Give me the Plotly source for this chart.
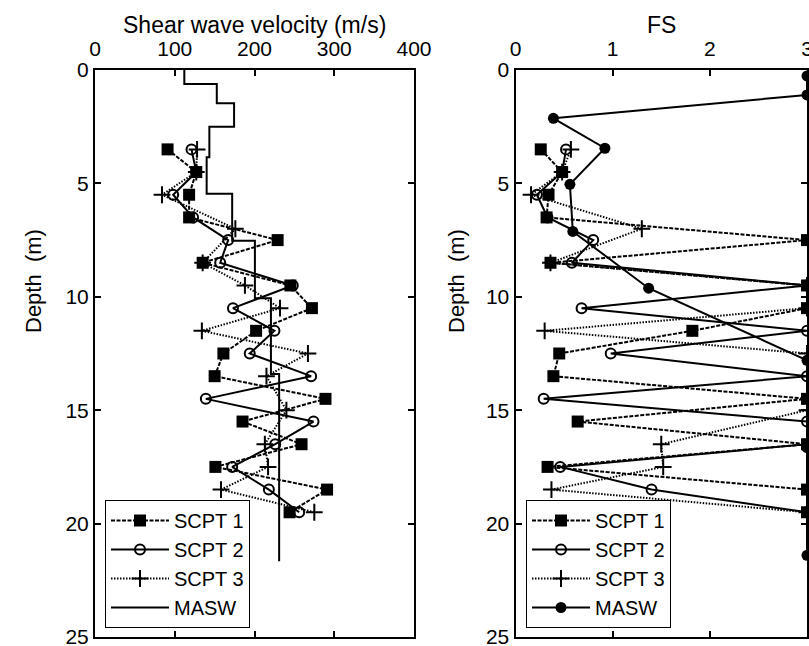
import plotly.graph_objects as go

# ---------------- data ----------------
depth_scpt = [3.5, 4.5, 5.5, 6.5, 7.5, 8.5, 9.5, 10.5, 11.5, 12.5, 13.5, 14.5, 15.5, 16.5, 17.5, 18.5, 19.5]
vs_scpt1 = [91, 127, 118, 118, 229, 135, 245, 272, 202, 161, 150, 289, 185, 259, 151, 291, 244]
vs_scpt2 = [121, 127, 98, 123, 167, 157, 248, 173, 225, 194, 271, 139, 274, 226, 172, 218, 256]
depth_scpt3 = [3.5, 4.5, 5.5, 7.0, 8.5, 9.5, 10.5, 11.5, 12.5, 13.5, 15.0, 16.5, 17.5, 18.5, 19.5]
vs_scpt3 = [128, 127, 84, 176, 135, 188, 232, 134, 267, 215, 240, 213, 217, 158, 275]

# MASW layered profile: layer top depths, layer velocities, bottom depth of profile
masw_layer_top = [0, 0.62, 1.47, 2.5, 3.85, 5.46, 7.53, 10.06, 13.4]
masw_vs = [112, 152.7, 174.4, 143.4, 140, 172, 200.5, 220.6, 230.9]
masw_bottom = 21.66

fs_scpt1 = [0.26, 0.48, 0.34, 0.32, 3, 0.36, 3, 3, 1.82, 0.45, 0.39, 3, 0.64, 3, 0.33, 3, 3]
fs_scpt2 = [0.52, 0.48, 0.22, 0.33, 0.8, 0.58, 3, 0.68, 3, 0.98, 3, 0.29, 3, 3, 0.46, 1.4, 3]
fs_scpt3 = [0.57, 0.48, 0.16, 1.3, 0.36, 3, 3, 0.3, 3, 3, 3, 1.5, 1.52, 0.37, 3]
masw_fs_depth = [0.26, 1.1, 2.13, 3.45, 5.04, 7.12, 9.62, 12.8, 16.65, 21.4]
masw_fs = [3, 3, 0.39, 0.92, 0.56, 0.59, 1.37, 3, 3, 3]

names = ["SCPT 1", "SCPT 2", "SCPT 3", "MASW"]

# ---------------- styles / geometry ----------------
FONT = "Liberation Sans, Arial, Helvetica, sans-serif"
W, H = 809, 646


def px(sx):
    return sx / W


def py(sy):
    return (H - sy) / H


s1 = dict(line=dict(color="black", width=2, dash="4px,1.5px"),
          marker=dict(symbol="square", size=12, color="black"))
s2 = dict(line=dict(color="black", width=2),
          marker=dict(symbol="circle-open", size=10, color="black", line=dict(width=2, color="black")))
s3 = dict(line=dict(color="black", width=2, dash="1.5px,1.5px"),
          marker=dict(symbol="cross-thin", size=12, color="black", line=dict(width=2, color="black")))

fig = go.Figure()

# left panel
fig.add_trace(go.Scatter(x=vs_scpt1, y=depth_scpt, mode="lines+markers", name=names[0],
                         xaxis="x", yaxis="y", legend="legend", **s1))
fig.add_trace(go.Scatter(x=vs_scpt2, y=depth_scpt, mode="lines+markers", name=names[1],
                         xaxis="x", yaxis="y", legend="legend", **s2))
fig.add_trace(go.Scatter(x=vs_scpt3, y=depth_scpt3, mode="lines+markers", name=names[2],
                         xaxis="x", yaxis="y", legend="legend", **s3))
masw_x = masw_vs + [masw_vs[-1]]
masw_y = masw_layer_top + [masw_bottom]
fig.add_trace(go.Scatter(x=masw_x, y=masw_y, mode="lines", name=names[3], line_shape="vh",
                         line=dict(color="black", width=2),
                         xaxis="x", yaxis="y", legend="legend"))

# right panel
fig.add_trace(go.Scatter(x=fs_scpt1, y=depth_scpt, mode="lines+markers", name=names[0],
                         xaxis="x2", yaxis="y2", legend="legend2", cliponaxis=False, **s1))
fig.add_trace(go.Scatter(x=fs_scpt2, y=depth_scpt, mode="lines+markers", name=names[1],
                         xaxis="x2", yaxis="y2", legend="legend2", cliponaxis=False, **s2))
fig.add_trace(go.Scatter(x=fs_scpt3, y=depth_scpt3, mode="lines+markers", name=names[2],
                         xaxis="x2", yaxis="y2", legend="legend2", cliponaxis=False, **s3))
fig.add_trace(go.Scatter(x=masw_fs, y=masw_fs_depth, mode="lines+markers", name=names[3],
                         line=dict(color="black", width=2),
                         marker=dict(symbol="circle", size=11, color="black"),
                         xaxis="x2", yaxis="y2", legend="legend2", cliponaxis=False))

ax = dict(showline=True, linecolor="black", linewidth=2, mirror="ticks",
          ticks="inside", ticklen=6, tickwidth=1.5, tickcolor="black",
          showgrid=False, zeroline=False, tickfont=dict(family=FONT, size=21, color="black"),
          automargin=False, ticklabeloverflow="allow")
xax = dict(ax, ticklabelstandoff=4)

legend_style = dict(xanchor="left", yanchor="bottom",
                    bordercolor="black", borderwidth=1, bgcolor="white",
                    font=dict(family=FONT, size=20, color="black"), itemwidth=58,
                    tracegroupgap=0)

fig.update_layout(
    width=W, height=H,
    margin=dict(l=0, r=0, t=0, b=0),
    paper_bgcolor="white", plot_bgcolor="white",
    font=dict(family=FONT, size=21, color="black"),
    xaxis=dict(domain=[px(95), px(414)], range=[0, 400], dtick=100, side="top", anchor="y", **xax),
    yaxis=dict(domain=[py(637), py(70)], range=[25, 0], dtick=5, anchor="x", **ax),
    xaxis2=dict(domain=[px(515.5), px(807)], range=[0, 3], dtick=1, side="top", anchor="y2", **xax),
    yaxis2=dict(domain=[py(637), py(70)], range=[25, 0], dtick=5, anchor="x2", **ax),
    legend=dict(x=px(105), y=py(628), **legend_style),
    legend2=dict(x=px(526), y=py(628), **legend_style),
    showlegend=True,
    annotations=[
        dict(text="Shear wave velocity (m/s)", x=px(255), y=py(25), xref="paper", yref="paper",
             showarrow=False, font=dict(family=FONT, size=23, color="black"), xanchor="center", yanchor="middle"),
        dict(text="FS", x=px(661), y=py(25), xref="paper", yref="paper",
             showarrow=False, font=dict(family=FONT, size=23, color="black"), xanchor="center", yanchor="middle"),
        dict(text="Depth\u00a0\u00a0(m)", x=px(33), y=py(281), xref="paper", yref="paper", textangle=-90,
             showarrow=False, font=dict(family=FONT, size=22, color="black"), xanchor="center", yanchor="middle"),
        dict(text="Depth\u00a0\u00a0(m)", x=px(456), y=py(281), xref="paper", yref="paper", textangle=-90,
             showarrow=False, font=dict(family=FONT, size=22, color="black"), xanchor="center", yanchor="middle"),
    ],
)

# remove the default page margin so the figure fills the 809x646 window exactly
fig.write_html("out.html", config={"displayModeBar": False},
               post_script="document.body.style.margin='0px';")
